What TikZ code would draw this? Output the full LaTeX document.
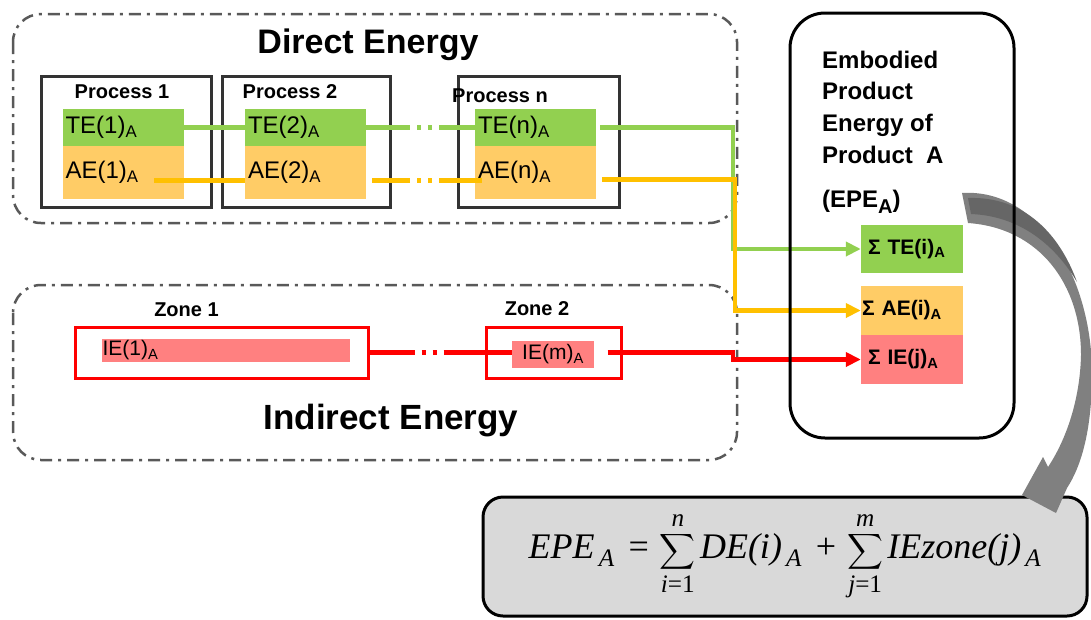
\documentclass[tikz,border=0pt]{standalone}
\usepackage{amsmath}
\usepackage[no-math]{fontspec}
\setmainfont{Liberation Sans}
\newfontfamily\tmsfont{Liberation Serif}
\usetikzlibrary{arrows.meta}

\definecolor{tefill}{RGB}{146,208,80}
\definecolor{aefill}{RGB}{255,204,102}
\definecolor{iefill}{RGB}{255,128,128}
\definecolor{aelinecol}{RGB}{255,192,0}
\definecolor{frmgray}{RGB}{217,217,217}
\definecolor{arrgray}{RGB}{128,128,128}
\definecolor{arrdark}{RGB}{102,102,102}

\newcommand{\ti}[1]{\text{\tmsfont\itshape #1}}
\newcommand{\tu}[1]{\text{\tmsfont #1}}

\tikzset{
  grpbox/.style={draw=black!65, line width=2.5pt, rounded corners=28pt,
    dash pattern=on 12pt off 6pt on 3pt off 6pt},
  ttl/.style={font=\fontsize{34}{40}\selectfont\bfseries, anchor=base, inner sep=0pt},
  proc/.style={draw=black!80, line width=3pt, minimum height=131pt, inner sep=0pt},
  proclbl/.style={font=\fontsize{20}{24}\selectfont\bfseries, anchor=base, inner sep=0pt},
  energy/.style={text width=115pt, inner xsep=3pt, inner ysep=0pt, align=left,
    font=\fontsize{24}{28}\selectfont},
  tebox/.style={energy, fill=tefill, minimum height=37pt},
  aebox/.style={energy, fill=aefill, minimum height=53pt},
  zone/.style={draw=red, line width=3pt, minimum height=51pt, inner sep=0pt},
  iebox/.style={fill=iefill, inner sep=0pt, font=\fontsize{21}{24}\selectfont},
  sumbox/.style={text width=88pt, inner xsep=7pt, inner ysep=0pt, align=left,
    font=\fontsize{21}{24}\selectfont\bfseries},
  greenflow/.style={draw=tefill, line width=4.5pt},
  orangeflow/.style={draw=aelinecol, line width=4.5pt},
  redflow/.style={draw=red, line width=4.5pt},
  dotdot/.style={dash pattern=on 10pt off 7pt on 4pt off 7pt on 4pt off 7pt},
  headarr/.style={-{Triangle[length=15pt,width=14pt]}},
}

\begin{document}
\begin{tikzpicture}[x=1pt,y=-1pt]
  \useasboundingbox (0,0) rectangle (1091,619);

  \draw[grpbox] (13,14) rectangle (737,223);
  \draw[grpbox] (13,285) rectangle (737,460);
  \node[ttl] (de) at (368,53) {Direct Energy};
  \node[ttl, font=\fontsize{35}{40}\selectfont\bfseries] (ide) at (391,429) {Indirect Energy};

  \foreach \k/\cx/\w/\lx/\ly in {1/126/170/122/98, 2/306/168/290/98, n/538.5/161/500/102}{
    \node[proc, minimum width=\w pt] (p\k) at (\cx,141.5) {};
    \node[proclbl] (p\k l) at (\lx,\ly) {Process \k};
  }
  \foreach \k/\x in {1/123, 2/305.5, n/535.5}{
    \node[tebox] (te\k) at (\x,127.5) {TE(\k)\textsubscript{A}};
    \node[aebox] (ae\k) at (\x,172.5) {AE(\k)\textsubscript{A}};
  }

  \node[zone, minimum width=293pt] (z1) at (221.5,352.5) {};
  \node[zone, minimum width=135pt] (z2) at (553.5,352.5) {};
  \node[proclbl] (z1l) at (186.5,316) {Zone 1};
  \node[proclbl] (z2l) at (537,315) {Zone 2};
  \node[iebox, minimum width=248pt, minimum height=23pt, text width=247pt,
    inner xsep=0.5pt, align=left] (ie1) at (226,350.5) {IE(1)\textsubscript{A}};
  \node[iebox, minimum width=82pt, minimum height=27pt] (iem) at (553,354.5) {IE(m)\textsubscript{A}};

  \node[sumbox, fill=tefill, minimum height=48pt] (sumte) at (912,249) {Σ TE(i)\textsubscript{A}};
  \node[sumbox, fill=aefill, minimum height=49pt] (sumae) at (912,310.5) {\hspace*{-6pt}Σ AE(i)\textsubscript{A}};
  \node[sumbox, fill=iefill, minimum height=49pt] (sumie) at (912,359.5) {Σ IE(j)\textsubscript{A}};

  % green: total energy
  \draw[greenflow] ([xshift=29pt]te1.center) -- (te2.west);
  \draw[greenflow] (te2.east) -- ++(34,0) coordinate (g1);
  \draw[greenflow, dotdot] (g1) -- ++(48,0) coordinate (g2);
  \draw[greenflow] (g2) -- (ten.west);
  \draw[greenflow, headarr] ([xshift=4pt]ten.east) -| ([xshift=-128pt]sumte.west) -- (sumte.west);

  % orange: auxiliary energy
  \draw[orangeflow] ([xshift=31pt,yshift=-8pt]ae1.center) -- ([yshift=-8pt]ae2.west);
  \draw[orangeflow] ([xshift=6pt,yshift=-8pt]ae2.east) -- ++(28,0) coordinate (o1);
  \draw[orangeflow, dotdot] (o1) -- ++(48,0) coordinate (o2);
  \draw[orangeflow] (o2) -- ([xshift=7pt,yshift=-8pt]aen.west);
  \draw[orangeflow, headarr] ([xshift=6pt,yshift=-7pt]aen.east) -| ([xshift=-126pt]sumae.west) -- (sumae.west);

  % red: indirect energy
  \draw[redflow] (z1.east) -- ++(35,0) coordinate (r1);
  \draw[redflow, dotdot] (r1) -- ++(45,0) coordinate (r2);
  \draw[redflow] (r2) -- (r2 -| iem.west);
  \draw[redflow, headarr] ([xshift=-15pt]z2.east) -| ([xshift=-128pt]sumie.west) -- (sumie.west);

  \node[draw, line width=3pt, rounded corners=20pt, fill=frmgray, minimum width=604pt,
    minimum height=119pt] (frm) at (785,556.5)
    {\fontsize{36}{40}\selectfont$\displaystyle \ti{EPE}_{\,\ti{A}}\;\;\tu{=}\;
      \sum_{\ti{i}\tu{=1}}^{\ti{n}} \ti{DE(i)}_{\,\ti{A}}\;\;\tu{+}\;
      \sum_{\ti{j}\tu{=1}}^{\ti{m}} \ti{IEzone(j)}_{\,\ti{A}}$};

  \fill[arrgray] (962,193) .. controls (1040,188) and (1094,280) .. (1092,380)
    .. controls (1091,430) and (1082,465) .. (1067,488)
    -- (1056,513) -- (1022,495) -- (1043,457) -- (1048,467)
    .. controls (1066,440) and (1080,400) .. (1081,355)
    .. controls (1081,285) and (1040,228) .. (968,223) -- cycle;
  \fill[arrdark] (968,198) .. controls (1025,196) and (1060,235) .. (1077,282)
    .. controls (1055,245) and (1020,216) .. (971,214) -- cycle;

  \node[draw, line width=3pt, rounded corners=35pt, minimum width=224pt,
    minimum height=425pt, inner sep=0pt] (epe) at (902,225.5) {};
  \node[anchor=north west, align=left, inner sep=0pt,
    font=\fontsize{24}{31.7}\selectfont\bfseries] (epet) at (822,50.5)
    {Embodied\\Product\\Energy of\\Product\ \ A};
  \node[anchor=base west, inner sep=0pt, font=\fontsize{24}{28}\selectfont\bfseries] (epes)
    at (822,207) {(EPE\raisebox{-6pt}{\fontsize{20}{20}\selectfont A})};
\end{tikzpicture}
\end{document}
